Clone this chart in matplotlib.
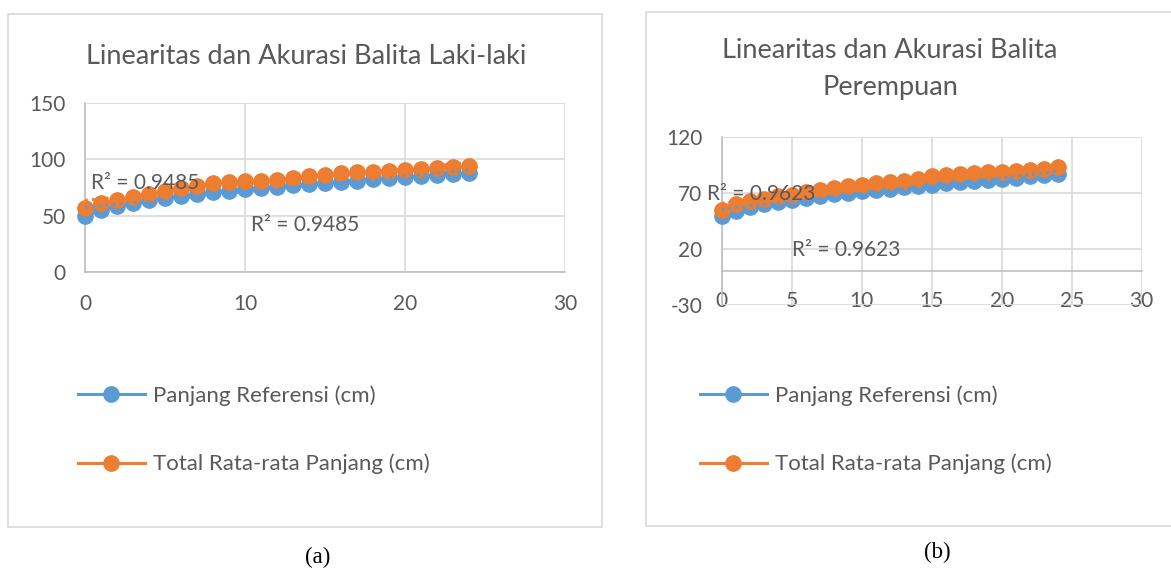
import numpy as np
import matplotlib.pyplot as plt
from matplotlib.patches import Rectangle
from matplotlib.lines import Line2D

# umur (bulan) 0..24
umur = list(range(25))

# (a) balita laki-laki
ref_laki = [49.9, 54.7, 58.4, 61.4, 63.9, 65.9, 67.6, 69.2, 70.6, 72.0, 73.3, 74.5,
            75.7, 76.9, 78.0, 79.1, 80.2, 81.2, 82.3, 83.2, 84.2, 85.1, 86.0, 86.9, 87.8]
ukur_laki = [56.5, 60.8, 63.6, 66.6, 69.5, 72.0, 74.4, 76.5, 78.6, 79.6, 80.5, 81.2,
             81.6, 83.1, 84.9, 86.1, 87.5, 88.4, 89.2, 89.8, 90.7, 91.3, 92.2, 93.0, 94.2]

# (b) balita perempuan
ref_perempuan = [49.1, 53.7, 57.1, 59.8, 62.1, 64.0, 65.7, 67.3, 68.7, 70.1, 71.5, 72.8,
                 74.0, 75.2, 76.4, 77.5, 78.6, 79.7, 80.7, 81.7, 82.7, 83.7, 84.8, 85.9, 87.2]
ukur_perempuan = [55.0, 60.1, 62.5, 64.6, 67.0, 68.5, 70.6, 72.4, 74.5, 75.9, 77.4, 78.9,
                  79.5, 80.4, 82.5, 84.9, 86.4, 87.0, 87.9, 88.5, 89.1, 89.6, 90.2, 91.5, 93.2]

r2_laki = ["R² = 0.9485", "R² = 0.9485"]
r2_perempuan = ["R² = 0.9623", "R² = 0.9623"]
label_ref = "Panjang Referensi (cm)"
label_ukur = "Total Rata-rata Panjang (cm)"

BLUE = "#5B9BD5"
ORANGE = "#ED7D31"
GRID = "#D9D9D9"
TXT = "#595959"

plt.rcParams['font.family'] = ['Lato', 'DejaVu Sans']
plt.rcParams['axes.unicode_minus'] = False

W, H = 1171, 570
fig = plt.figure(figsize=(W / 100, H / 100), dpi=100)

TICK_FS = 15
LEG_FS = 16
R2_FS = 15
TITLE_FS = 19.5


def fx(px):
    return px / W


def fy(py):
    return 1 - py / H


def frame(x0, y0, x1, y1):
    fig.patches.append(Rectangle((fx(x0), fy(y1)), fx(x1) - fx(x0), fy(y0) - fy(y1),
                                 transform=fig.transFigure, fill=False,
                                 edgecolor=GRID, linewidth=1.2))


def draw_chart(ax, ref, ukur, r2, r2_pos, legend_x):
    for ys, col in [(ref, BLUE), (ukur, ORANGE)]:
        ax.plot(umur, ys, color=col, linewidth=2.2, marker='o', markersize=11,
                zorder=3, clip_on=False)
    for ys, col in [(ref, BLUE), (ukur, ORANGE)]:
        k, b = np.polyfit(umur, ys, 1)
        xx = np.array([umur[0], umur[-1]])
        ax.plot(xx, k * xx + b, color=col, linestyle=(0, (1, 1.5)), linewidth=2.0,
                zorder=4)
    for txt, (px, py) in zip(r2, r2_pos):
        ax.text(px, py, txt, color=TXT, fontsize=R2_FS, va='center', ha='left',
                zorder=5, clip_on=False)
    ax.grid(True, color=GRID, linewidth=1.2)
    ax.set_axisbelow(True)
    for s in ['top', 'right']:
        ax.spines[s].set_visible(False)
    for s in ['left', 'bottom']:
        ax.spines[s].set_color("#BFBFBF")
        ax.spines[s].set_linewidth(1.2)
    ax.tick_params(length=0, labelsize=TICK_FS, labelcolor=TXT)
    ax.tick_params(axis='y', pad=14)

    handles = [Line2D([], [], color=BLUE, linewidth=2.2, marker='o', markersize=11),
               Line2D([], [], color=ORANGE, linewidth=2.2, marker='o', markersize=11)]
    ax.legend(handles, [label_ref, label_ukur], loc='upper left',
              bbox_to_anchor=(fx(legend_x), fy(385)), bbox_transform=fig.transFigure,
              frameon=False, fontsize=LEG_FS, labelcolor=TXT, handlelength=3.0,
              handletextpad=0.36, labelspacing=2.17, borderpad=0, borderaxespad=0)


# frames
frame(8, 14, 602, 527)
frame(646, 12, 1172, 526)

# (a)
ax1 = fig.add_axes([fx(85), fy(272), fx(565) - fx(85), fy(103) - fy(272)])
draw_chart(ax1, ref_laki, ukur_laki, r2_laki, [(0.35, 79), (10.4, 41.5)], 78)
ax1.set_xlim(0, 30)
ax1.set_ylim(0, 150)
ax1.set_xticks([0, 10, 20, 30])
ax1.set_yticks([0, 50, 100, 150])
ax1.tick_params(axis='x', pad=16)
fig.text(fx(306), fy(57), "Linearitas dan Akurasi Balita Laki-laki", ha='center',
         va='center', fontsize=TITLE_FS, color=TXT)

# (b)
ax2 = fig.add_axes([fx(721.7), fy(305), fx(1141.7) - fx(721.7), fy(137) - fy(305)])
draw_chart(ax2, ref_perempuan, ukur_perempuan, r2_perempuan,
           [(-1.05, 69.5), (5.0, 19.5)], 700)
ax2.set_xlim(0, 30)
ax2.set_ylim(-30, 120)
ax2.set_xticks([0, 5, 10, 15, 20, 25, 30])
ax2.set_yticks([-30, 20, 70, 120])
ax2.spines['bottom'].set_position(('data', 0))
ax2.tick_params(axis='x', pad=14)
fig.text(fx(890), fy(69), "Linearitas dan Akurasi Balita\nPerempuan", ha='center',
         va='center', fontsize=TITLE_FS, color=TXT, linespacing=1.6)

# captions
fig.text(fx(318), fy(557), "(a)", ha='center', va='center', fontsize=16.5,
         family='Liberation Serif', color='black')
fig.text(fx(937), fy(552), "(b)", ha='center', va='center', fontsize=16.5,
         family='Liberation Serif', color='black')

fig.savefig("out.png", dpi=100, facecolor='white')
